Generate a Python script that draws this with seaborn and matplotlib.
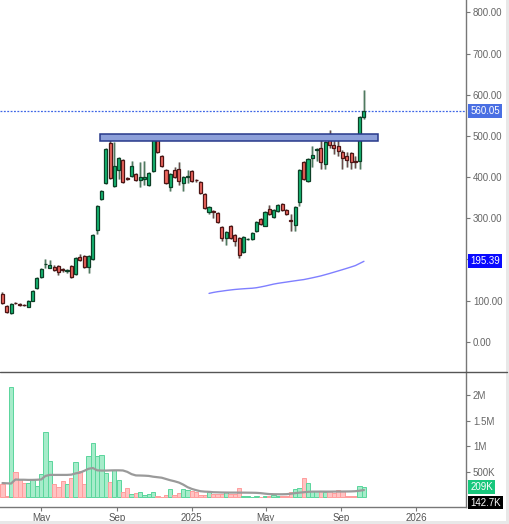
import matplotlib
matplotlib.use("Agg")
import matplotlib.pyplot as plt
import matplotlib.dates as mdates
from matplotlib.patches import Rectangle
from matplotlib.lines import Line2D
import numpy as np
import pandas as pd
import seaborn as sns

# weekly candles, first week to last week
first_week = "2024-02-28"
n_weeks = 85

opens = [116, 87, 70, 95, 91, 90, 85, 100, 131, 158,
         188, 180, 182, 184, 176, 172, 184, 165, 206, 209,
         182, 201, 272, 347, 386, 483, 379, 417, 442, 398,
         403, 408, 393, 395, 381, 415, 490, 451, 417, 376,
         417, 420, 386, 400, 415, 393, 388, 359, 316, 317,
         313, 279, 252, 282, 260, 252, 218, 249, 250, 269,
         299, 282, 323, 303, 318, 335, 320, 295, 284, 340,
         437, 391, 446, 466, 470, 432, 495, 478, 476, 461,
         451, 459, 439, 439, 546]
highs = [120, 89, 94, 97, 93, 92, 102, 126, 157, 179,
         200, 198, 186, 187, 180, 176, 186, 206, 212, 211,
         211, 262, 332, 368, 470, 493, 485, 448, 445, 400,
         439, 411, 437, 438, 412, 497, 492, 453, 419, 410,
         425, 437, 402, 418, 417, 396, 390, 361, 330, 320,
         315, 281, 269, 284, 262, 254, 257, 252, 267, 293,
         301, 318, 332, 322, 334, 337, 322, 310, 330, 419,
         439, 446, 475, 470, 490, 487, 514, 495, 500, 465,
         460, 461, 450, 548, 612]
lows = [92, 71, 68, 91, 88, 87, 84, 99, 128, 155,
        180, 178, 172, 163, 170, 168, 155, 163, 197, 180,
        167, 199, 262, 345, 384, 396, 376, 395, 385, 393,
        400, 390, 376, 380, 379, 412, 459, 425, 384, 365,
        398, 380, 365, 385, 389, 388, 360, 323, 310, 300,
        289, 245, 235, 250, 232, 204, 216, 246, 248, 266,
        284, 280, 309, 301, 316, 318, 309, 270, 270, 330,
        394, 389, 425, 440, 420, 420, 470, 455, 450, 420,
        425, 420, 422, 420, 541]
closes = [95, 73, 92, 93, 90, 89, 100, 124, 155, 177,
          190, 187, 175, 170, 174, 173, 158, 204, 199, 182,
          209, 260, 330, 366, 468, 398, 427, 446, 388, 395,
          427, 393, 400, 400, 410, 495, 461, 427, 386, 408,
          400, 391, 400, 401, 391, 392, 362, 325, 328, 316,
          291, 252, 267, 252, 245, 211, 255, 250, 265, 291,
          286, 316, 311, 320, 332, 320, 311, 294, 328, 417,
          396, 444, 454, 467, 437, 485, 478, 471, 464, 447,
          442, 437, 437, 546, 560.05]

# volume in thousands
volume_k = [270, 25, 2160, 490, 355, 275, 275, 340, 225, 450,
            1280, 715, 265, 200, 320, 255, 375, 690, 520, 255,
            805, 1060, 805, 825, 485, 295, 540, 340, 110, 180,
            75, 85, 95, 50, 60, 110, 25, 10, 50, 170,
            45, 80, 170, 150, 120, 95, 55, 45, 100, 65,
            65, 70, 95, 60, 70, 185, 35, 20, 8, 35,
            10, 25, 30, 45, 25, 20, 35, 110, 165, 180,
            380, 275, 115, 130, 125, 95, 125, 85, 135, 125,
            30, 20, 30, 230, 209]
volume_ma_k = [280, 275, 270, 350, 345, 345, 342, 342, 345, 350,
               420, 440, 440, 440, 440, 440, 445, 470, 485, 520,
               560, 575, 530, 525, 525, 528, 530, 530, 527, 500,
               455, 430, 428, 425, 420, 405, 395, 385, 360, 335,
               315, 290, 250, 200, 165, 140, 120, 112, 108, 100,
               98, 95, 94, 93, 93, 92, 92, 91, 90, 88,
               82, 72, 64, 61, 60, 60, 62, 70, 82, 92,
               100, 108, 112, 112, 113, 112, 112, 113, 114, 114,
               115, 116, 120, 130, 142.7]

# long moving average, shown from week 49 on
ma_start = 48
price_ma = [117.5, 119.8, 121.6, 123.0, 124.5, 125.8, 127.0, 127.9, 128.7, 129.4,
            130.0, 131.2, 133.1, 135.2, 137.6, 140.0, 141.9, 143.5, 145.0, 146.6,
            148.1, 149.6, 151.0, 153.1, 155.3, 157.6, 160.0, 162.9, 165.8, 168.9,
            172.0, 175.1, 178.3, 181.6, 185.0, 190.2, 195.39]

# resistance zone
zone_start, zone_end = "2024-08-05", "2025-10-31"
zone_low, zone_high = 488, 505

last_price = 560.05
last_ma = 195.39
last_vol = "209K"
last_vol_ma = "142.7K"

price_ticks = [0, 100, 200, 300, 400, 500, 600, 700, 800]
# 200.00 sits under the MA price tag, so it shows no text
price_tick_labels = ["0.00", "100.00", "", "300.00", "400.00", "500.00", "600.00", "700.00", "800.00"]
vol_ticks = [500000, 1000000, 1500000, 2000000]
vol_tick_labels = ["500K", "1M", "1.5M", "2M"]
date_ticks = ["2024-05-01", "2024-09-01", "2025-01-01", "2025-05-01", "2025-09-01", "2026-01-01"]
date_labels = ["May", "Sep", "2025", "May", "Sep", "2026"]

sns.set_theme(style="white")
plt.rcParams['font.family'] = ['Liberation Sans', 'DejaVu Sans']

dates = pd.date_range(first_week, periods=n_weeks, freq="7D")
df = pd.DataFrame({"date": dates, "open": opens, "high": highs, "low": lows,
                   "close": closes, "volume": np.array(volume_k) * 1000,
                   "vol_ma": np.array(volume_ma_k) * 1000})
df["up"] = df["close"] >= df["open"]
xd = mdates.date2num(df["date"])

fig = plt.figure(figsize=(5.10, 5.24), dpi=100)
ax = fig.add_axes([0, 1 - 371 / 524, 466 / 510, 371 / 524])
axv = fig.add_axes([0, 1 - 507 / 524, 466 / 510, (507 - 372) / 524], sharex=ax)

up_body, up_edge = "#16b873", "#0c3f26"
dn_body, dn_edge = "#f0675f", "#4d1515"
body_col = np.where(df["up"], up_body, dn_body)
edge_col = np.where(df["up"], up_edge, dn_edge)
wick_col = np.where(df["up"], "#4f7a60", "#6b4a4a")

# candles
ax.vlines(xd, df["low"], df["high"], colors="#c9d3cc", lw=2.2, zorder=2)
ax.vlines(xd, df["low"], df["high"], colors=wick_col, lw=0.9, zorder=3)
body_lo = np.minimum(df["open"], df["close"])
body_h = np.maximum(np.abs(df["close"] - df["open"]), 1.5)
ax.bar(xd, body_h, bottom=body_lo, width=5, color=body_col, edgecolor=edge_col,
       linewidth=0.9, zorder=4)

# resistance zone
z0, z1 = mdates.date2num(pd.to_datetime([zone_start, zone_end]))
ax.add_patch(Rectangle((z0, zone_low), z1 - z0, zone_high - zone_low,
                       facecolor="#8c9fd9", edgecolor="#27398a", lw=1.1, zorder=5))

# moving average
ma_df = pd.DataFrame({"date": dates[ma_start:], "ma": price_ma})
sns.lineplot(data=ma_df, x="date", y="ma", ax=ax, color="#7f7fff", lw=1.0, zorder=3)

# last price line
ax.axhline(last_price, color="#3f66e6", lw=0.9, ls=(0, (1.5, 1.2)), zorder=1)

ax.set_ylim(-71, 830)
ax.set_xlim(mdates.date2num(pd.Timestamp("2024-02-24")), mdates.date2num(pd.Timestamp("2026-03-23")))
ax.yaxis.tick_right()
ax.set_yticks(price_ticks)
ax.set_yticklabels(price_tick_labels)
ax.tick_params(axis="y", right=True, length=3, width=0.8, color="#777777",
               labelsize=7, labelcolor="#666666", pad=2)
ax.tick_params(axis="x", bottom=False, labelbottom=False)
ax.set_xlabel("")
ax.set_ylabel("")
for s in ["top", "left", "bottom"]:
    ax.spines[s].set_visible(False)
ax.spines["right"].set_color("#777777")
ax.spines["right"].set_linewidth(1.0)

# price tags on the axis
ax.annotate(f"{last_price:.2f}", xy=(1.0, last_price), xycoords=("axes fraction", "data"),
            xytext=(3, 0), textcoords="offset points", va="center", ha="left",
            fontsize=7, color="white", zorder=10, annotation_clip=False,
            bbox=dict(boxstyle="square,pad=0.2", fc="#4a6fe3", ec="none"))
ax.annotate(f"{last_ma:.2f}", xy=(1.0, last_ma), xycoords=("axes fraction", "data"),
            xytext=(3, 0), textcoords="offset points", va="center", ha="left",
            fontsize=7, color="white", zorder=10, annotation_clip=False,
            bbox=dict(boxstyle="square,pad=0.2", fc="#0a0aff", ec="none"))

# volume
vol_fill = np.where(df["up"], "#a6ecca", "#ffc2c2")
vol_edge = np.where(df["up"], "#5ad69c", "#ff9c9c")
axv.bar(xd, df["volume"], width=7, color=vol_fill, edgecolor=vol_edge, linewidth=0.7, zorder=2)
sns.lineplot(data=df, x="date", y="vol_ma", ax=axv, color="#9a9a9a", lw=1.6, zorder=3)

axv.set_ylim(-190000, 2460000)
axv.yaxis.tick_right()
axv.set_yticks(vol_ticks)
axv.set_yticklabels(vol_tick_labels)
axv.tick_params(axis="y", right=True, length=3, width=0.8, color="#777777",
                labelsize=7, labelcolor="#666666", pad=2)
axv.set_xticks(mdates.date2num(pd.to_datetime(date_ticks)))
axv.set_xticklabels(date_labels)
axv.tick_params(axis="x", bottom=True, length=3, width=0.8, color="#777777",
                labelsize=7, labelcolor="#555555", pad=1)
axv.set_xlabel("")
axv.set_ylabel("")
for s in ["top", "left"]:
    axv.spines[s].set_visible(False)
for s in ["right", "bottom"]:
    axv.spines[s].set_color("#777777")
    axv.spines[s].set_linewidth(1.0)

axv.annotate(last_vol, xy=(1.0, df["volume"].iloc[-1]), xycoords=("axes fraction", "data"),
             xytext=(3, 0), textcoords="offset points", va="center", ha="left",
             fontsize=7, color="white", zorder=10, annotation_clip=False,
             bbox=dict(boxstyle="square,pad=0.2", fc="#17c77c", ec="none"))
axv.annotate(last_vol_ma, xy=(1.0, df["vol_ma"].iloc[-1]), xycoords=("axes fraction", "data"),
             xytext=(3, -9), textcoords="offset points", va="center", ha="left",
             fontsize=7, color="white", zorder=10, annotation_clip=False,
             bbox=dict(boxstyle="square,pad=0.2", fc="#000000", ec="none"))

# panel separator and outer frame
fig.add_artist(Line2D([0, 507 / 510], [1 - 371.5 / 524] * 2, color="#555555", lw=1.0))
fig.patches.append(Rectangle((506 / 510, 0), 4 / 510, 1, transform=fig.transFigure,
                             facecolor="#e8e8e8", edgecolor="none", zorder=0))
fig.patches.append(Rectangle((0, 0), 1, 3 / 524, transform=fig.transFigure,
                             facecolor="#e8e8e8", edgecolor="none", zorder=0))

fig.savefig("out.png", dpi=100)
